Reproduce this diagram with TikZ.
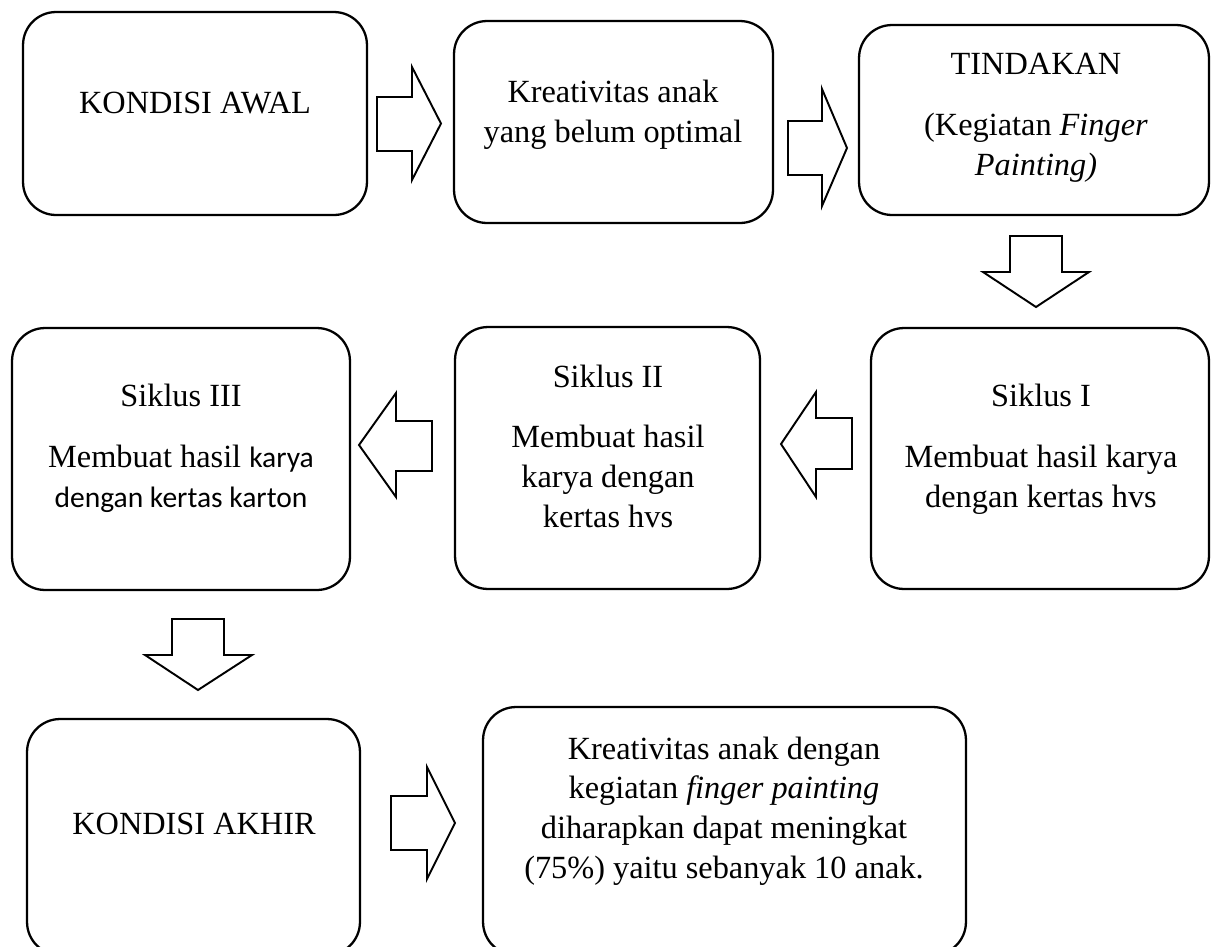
\documentclass[tikz,border=0pt]{standalone}
\usepackage{fontspec}
\setmainfont{Liberation Serif}
\newfontfamily\calibri{Carlito}
\usetikzlibrary{positioning}
\definecolor{Ink}{HTML}{000000}

\begin{document}
\begin{tikzpicture}[
    x=0.02cm, y=-0.02cm,
    box/.style={
        draw=Ink, line width=1.3pt, rounded corners=0.66cm, inner sep=0pt
    },
    lbl/.style={
        inner sep=0pt, align=center, anchor=base, text=Ink,
        font=\fontsize{18.4}{22.5}\selectfont
    },
    blk/.style={draw=Ink, line width=1.1pt, fill=white, line join=miter}
]
\useasboundingbox (0,0) rectangle (1211,947);

% =============================================
% ROW 1: Kondisi awal -> Kreativitas -> Tindakan
% =============================================
\node[box, minimum width=6.88cm, minimum height=4.06cm] (awal) at (195,113.5) {};
\node[lbl] (awaltxt) at (195,113) {KONDISI AWAL};

\node[box, minimum width=6.38cm, minimum height=4.04cm] (kreatif) at (613.5,122) {};
\node[lbl] (kreatiftxt) at (613,142) {Kreativitas anak\\yang belum optimal};

\node[box, minimum width=7.00cm, minimum height=3.80cm] (tindakan) at (1034,120) {};
\node[lbl] (tindakantxt) at (1036,175)
    {TINDAKAN\\[12.3pt](Kegiatan \textit{Finger}\\\textit{Painting)}};

\draw[blk] (377,97) -- (412,97) -- (412,67) -- (441,123.5)
    -- (412,180) -- (412,151) -- (377,151) -- cycle;
\draw[blk] (788,121) -- (822,121) -- (822,89) -- (847,148)
    -- (822,206) -- (822,175) -- (788,175) -- cycle;

% down to Siklus I
\draw[blk] (1010,236) -- (1062,236) -- (1062,272) -- (1089,272)
    -- (1036,307) -- (983,272) -- (1010,272) -- cycle;

% =============================================
% ROW 2: Siklus I <- Siklus II <- Siklus III
% =============================================
\node[box, minimum width=6.76cm, minimum height=5.22cm] (siklusI) at (1040,458.5) {};
\node[lbl] (siklusItxt) at (1041,507)
    {Siklus I\\[12.3pt]Membuat hasil karya\\dengan kertas hvs};

\node[box, minimum width=6.10cm, minimum height=5.24cm] (siklusII) at (607.5,458) {};
\node[lbl] (siklusIItxt) at (608,527)
    {Siklus II\\[12pt]Membuat hasil\\karya dengan\\kertas hvs};

\node[box, minimum width=6.76cm, minimum height=5.24cm] (siklusIII) at (181,459) {};
\node[lbl] (siklusIIItxt) at (181,507)
    {Siklus III\\[12pt]Membuat hasil {\calibri\fontsize{16.8}{22}\selectfont karya}\\
     {\calibri\fontsize{16.8}{22}\selectfont dengan kertas karton}};

\draw[blk] (852,418) -- (816,418) -- (816,392) -- (781,444)
    -- (816,497) -- (816,469) -- (852,469) -- cycle;
\draw[blk] (432,421) -- (396,421) -- (396,393) -- (359,445)
    -- (396,497) -- (396,471) -- (432,471) -- cycle;

% down to Kondisi akhir
\draw[blk] (172,619) -- (224,619) -- (224,655) -- (252,655)
    -- (198,690) -- (145,655) -- (172,655) -- cycle;

% =============================================
% ROW 3: Kondisi akhir -> hasil
% =============================================
\node[box, minimum width=6.66cm, minimum height=4.72cm] (akhir) at (193.5,837) {};
\node[lbl] (akhirtxt) at (194,834) {KONDISI AKHIR};

\node[box, minimum width=9.66cm, minimum height=4.96cm] (hasil) at (724.5,831) {};
\node[lbl] (hasiltxt) at (724,878)
    {Kreativitas anak dengan\\kegiatan \textit{finger painting}\\
     diharapkan dapat meningkat\\(75\%) yaitu sebanyak 10 anak.};

\draw[blk] (391,796) -- (427,796) -- (427,767) -- (455,823)
    -- (427,879) -- (427,850) -- (391,850) -- cycle;

\end{tikzpicture}
\end{document}
